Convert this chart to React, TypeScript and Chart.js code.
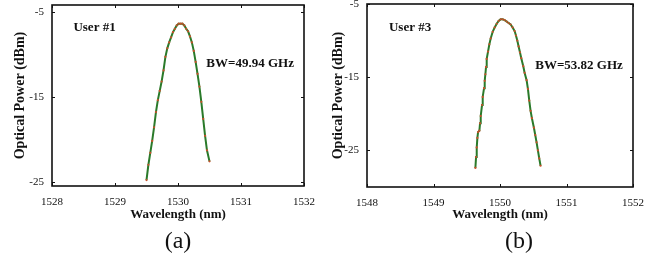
import React, { useEffect, useRef } from "react";
import { Chart, registerables } from "chart.js";

Chart.register(...registerables);

// ---- data ----
const userA_wavelength = [
  1529.50, 1529.53, 1529.56, 1529.59, 1529.62, 1529.65, 1529.68, 1529.71, 1529.74, 1529.77,
  1529.80, 1529.83, 1529.86, 1529.89, 1529.92, 1529.95, 1529.98, 1530.01, 1530.04, 1530.07,
  1530.10, 1530.13, 1530.16, 1530.19, 1530.22, 1530.25, 1530.28, 1530.31, 1530.34, 1530.37,
  1530.40, 1530.43, 1530.46, 1530.50,
];
const userA_power = [
  -24.8, -23.0, -21.6, -20.2, -18.6, -16.8, -15.4, -14.3, -13.2, -11.9,
  -10.3, -9.3, -8.6, -8.0, -7.4, -7.0, -6.6, -6.4, -6.4, -6.4,
  -6.6, -7.0, -7.3, -7.9, -8.6, -9.6, -10.9, -12.3, -13.8, -15.6,
  -17.6, -19.6, -21.3, -22.6,
];
const userB_wavelength = [
  1549.63, 1549.64, 1549.65, 1549.66, 1549.67, 1549.69, 1549.70, 1549.71, 1549.73, 1549.74,
  1549.76, 1549.77, 1549.78, 1549.79, 1549.80, 1549.82, 1549.84, 1549.86, 1549.89, 1549.92,
  1549.95, 1549.98, 1550.01, 1550.04, 1550.07, 1550.10, 1550.13, 1550.16, 1550.19, 1550.22,
  1550.24, 1550.26, 1550.28, 1550.30, 1550.32, 1550.35, 1550.37, 1550.40, 1550.42, 1550.44,
  1550.46, 1550.48, 1550.51, 1550.53, 1550.55, 1550.57, 1550.59, 1550.61,
];
const userB_power = [
  -27.4, -25.9, -24.6, -23.3, -22.5, -22.3, -21.3, -20.3, -18.8, -17.7,
  -16.5, -15.5, -14.6, -13.6, -12.5, -11.5, -10.5, -9.7, -8.8, -8.2,
  -7.7, -7.3, -7.1, -7.1, -7.2, -7.4, -7.6, -7.8, -8.2, -8.7,
  -9.3, -10.0, -10.8, -11.6, -12.4, -13.5, -14.4, -15.4, -16.6, -18.2,
  -19.6, -20.6, -21.9, -22.9, -23.9, -25.0, -26.1, -27.1,
];
const xTicksA = [1528, 1529, 1530, 1531, 1532];
const xTicksB = [1548, 1549, 1550, 1551, 1552];
const yTicks = [-25, -15, -5];
const labelA = "User #1";
const bwA = "BW=49.94 GHz";
const labelB = "User #3";
const bwB = "BW=53.82 GHz";

const SERIF = "'Liberation Serif', 'Times New Roman', serif";

type PanelCfg = {
  xs: number[];
  ys: number[];
  xTicks: number[];
  yMin: number;
  yMax: number;
  user: string;
  bw: string;
  userPos: [number, number];
  bwPos: [number, number];
  yAxisWidth: number;
  padRight: number;
  padTop: number;
  xAxisHeight: number;
  yTitlePad: number;
};

function Panel({ cfg, width, height }: { cfg: PanelCfg; width: number; height: number }) {
  const ref = useRef<HTMLCanvasElement | null>(null);
  useEffect(() => {
    if (!ref.current) return;
    const boxPlugin = {
      id: "boxPlugin",
      afterDraw(chart: any) {
        const { ctx, chartArea } = chart;
        const xs = chart.scales.x;
        const ys = chart.scales.y;
        ctx.save();
        ctx.strokeStyle = "#111";
        ctx.lineWidth = 1.6;
        ctx.strokeRect(chartArea.left, chartArea.top, chartArea.right - chartArea.left, chartArea.bottom - chartArea.top);
        ctx.lineWidth = 1;
        const tl = 3;
        ctx.beginPath();
        cfg.xTicks.forEach((v) => {
          const px = Math.round(xs.getPixelForValue(v)) + 0.5;
          ctx.moveTo(px, chartArea.bottom);
          ctx.lineTo(px, chartArea.bottom - tl);
          ctx.moveTo(px, chartArea.top);
          ctx.lineTo(px, chartArea.top + tl);
        });
        yTicks.forEach((v) => {
          const py = Math.round(ys.getPixelForValue(v)) + 0.5;
          ctx.moveTo(chartArea.left, py);
          ctx.lineTo(chartArea.left + tl, py);
          ctx.moveTo(chartArea.right, py);
          ctx.lineTo(chartArea.right - tl, py);
        });
        ctx.stroke();
        ctx.fillStyle = "#111";
        ctx.font = `bold 13px ${SERIF}`;
        ctx.textBaseline = "middle";
        ctx.textAlign = "left";
        ctx.fillText(cfg.user, xs.getPixelForValue(cfg.userPos[0]), ys.getPixelForValue(cfg.userPos[1]));
        ctx.fillText(cfg.bw, xs.getPixelForValue(cfg.bwPos[0]), ys.getPixelForValue(cfg.bwPos[1]));
        ctx.restore();
      },
    };
    const chart = new Chart(ref.current, {
      type: "line",
      data: {
        datasets: [
          {
            data: cfg.xs.map((x, i) => ({ x, y: cfg.ys[i] })),
            borderColor: "#2a7a2a",
            borderWidth: 2,
            pointRadius: 1.1,
            pointBackgroundColor: "#c8502a",
            pointBorderWidth: 0,
            tension: 0,
            fill: false,
          },
        ],
      },
      options: {
        animation: false,
        responsive: false,
        maintainAspectRatio: false,
        layout: { padding: { left: 0, top: cfg.padTop, right: cfg.padRight, bottom: 0 } },
        plugins: { legend: { display: false }, tooltip: { enabled: false } },
        scales: {
          x: {
            type: "linear",
            min: cfg.xTicks[0],
            max: cfg.xTicks[cfg.xTicks.length - 1],
            afterBuildTicks: (s: any) => {
              s.ticks = cfg.xTicks.map((v) => ({ value: v }));
            },
            afterFit: (s: any) => {
              s.height = cfg.xAxisHeight;
              s.paddingLeft = 0;
              s.paddingRight = 0;
            },
            grid: { display: false, drawTicks: false },
            border: { display: false },
            ticks: {
              padding: 10,
              color: "#111",
              font: { family: SERIF, size: 11 },
              maxRotation: 0,
              callback: (v: any) => String(v),
            },
            title: {
              display: true,
              text: "Wavelength (nm)",
              color: "#111",
              font: { family: SERIF, size: 13, weight: "bold" },
              padding: { top: 0, bottom: 8 },
            },
          },
          y: {
            type: "linear",
            min: cfg.yMin,
            max: cfg.yMax,
            afterBuildTicks: (s: any) => {
              s.ticks = yTicks.map((v) => ({ value: v }));
            },
            afterFit: (s: any) => {
              s.width = cfg.yAxisWidth;
              s.paddingTop = 0;
              s.paddingBottom = 0;
            },
            grid: { display: false, drawTicks: false },
            border: { display: false },
            ticks: {
              padding: 8,
              color: "#111",
              font: { family: SERIF, size: 11 },
              callback: (v: any) => String(v),
            },
            title: {
              display: true,
              text: "Optical Power (dBm)",
              color: "#111",
              font: { family: SERIF, size: 14, weight: "bold" },
              padding: { top: cfg.yTitlePad, bottom: 0 },
            },
          },
        },
      },
      plugins: [boxPlugin],
    });
    return () => chart.destroy();
  }, []);
  return <canvas ref={ref} width={width} height={height} style={{ width, height, display: "block" }} />;
}

const panelA: PanelCfg = {
  xs: userA_wavelength,
  ys: userA_power,
  xTicks: xTicksA,
  yMin: -25.5,
  yMax: -4.2,
  user: labelA,
  bw: bwA,
  userPos: [1528.34, -6.9],
  bwPos: [1530.45, -11.1],
  yAxisWidth: 52,
  padRight: 26,
  padTop: 5,
  xAxisHeight: 44,
  yTitlePad: 12,
};

const panelB: PanelCfg = {
  xs: userB_wavelength,
  ys: userB_power,
  xTicks: xTicksB,
  yMin: -30,
  yMax: -5,
  user: labelB,
  bw: bwB,
  userPos: [1548.33, -8.28],
  bwPos: [1550.53, -13.47],
  yAxisWidth: 37,
  padRight: 30,
  padTop: 4,
  xAxisHeight: 43,
  yTitlePad: 0,
};

export default function App() {
  const cap: React.CSSProperties = {
    position: "absolute",
    top: 228,
    width: 60,
    height: 24,
    lineHeight: "24px",
    textAlign: "center",
    fontFamily: SERIF,
    fontSize: 24,
    color: "#111",
  };
  return (
    <div style={{ position: "absolute", left: 0, top: 0, width: 663, height: 258, background: "#fff", overflow: "hidden" }}>
      <div style={{ position: "absolute", left: 0, top: 0 }}>
        <Panel cfg={panelA} width={330} height={230} />
      </div>
      <div style={{ position: "absolute", left: 330, top: 0 }}>
        <Panel cfg={panelB} width={333} height={230} />
      </div>
      <div style={{ ...cap, left: 148 }}>(a)</div>
      <div style={{ ...cap, left: 489 }}>(b)</div>
    </div>
  );
}
